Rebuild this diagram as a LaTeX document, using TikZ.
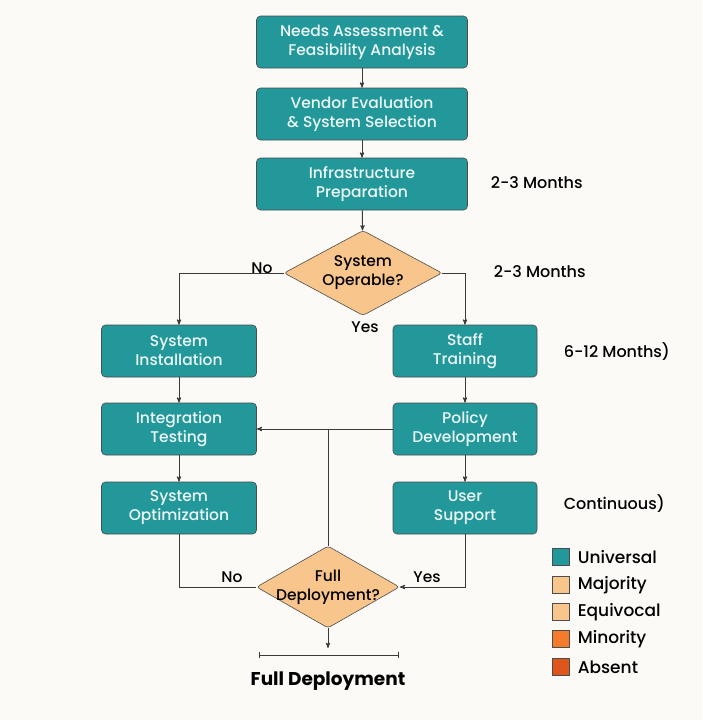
\documentclass[tikz,border=0pt]{standalone}
\usepackage{fontspec}
\setmainfont{Poppins}
\newfontfamily\mediumfont{Poppins Medium}
\usetikzlibrary{arrows,shapes.geometric}

\definecolor{stepteal}{HTML}{23989A}
\definecolor{decpeach}{HTML}{F8C58C}
\definecolor{minorange}{HTML}{F47A2C}
\definecolor{absorange}{HTML}{DF561C}
\definecolor{paper}{HTML}{FCFAF6}
\definecolor{wire}{HTML}{3A3A3A}

\begin{document}
\begin{tikzpicture}[x=1pt,y=-1pt,->,>=stealth',line width=0.9pt,draw=wire,
  stage/.style={rectangle,rounded corners=4pt,fill=stepteal,draw=black!70,line width=0.6pt,
    text=white!92!stepteal,align=center,font=\mediumfont\fontsize{15.5}{19}\selectfont,
    minimum height=52pt,inner sep=0pt},
  wide stage/.style={stage,minimum width=211pt},
  left stage/.style={stage,minimum width=155pt},
  right stage/.style={stage,minimum width=144pt},
  choice/.style={diamond,rounded corners=3pt,fill=decpeach,draw=black!70,line width=0.6pt,
    align=center,font=\mediumfont\fontsize{15.5}{19}\selectfont,inner sep=0pt},
  side/.style={font=\mediumfont\fontsize{16}{18}\selectfont,anchor=west},
  tag/.style={font=\mediumfont\fontsize{15.5}{18}\selectfont},
  key/.style={rectangle,draw=black!70,line width=0.6pt,minimum size=17pt,inner sep=0pt}]

  \fill[paper] (0,0) rectangle (702,720);

  \node[wide stage] (needs) at (362,42) {Needs Assessment \&\\Feasibility Analysis};
  \node[wide stage] (vendor) at (362,114) {Vendor Evaluation\\\& System Selection};
  \node[wide stage] (infra) at (362,184) {Infrastructure\\Preparation};
  \node[choice,minimum width=158pt,minimum height=85pt,aspect=1.86] (operable) at (363,273) {System\\Operable?};
  \node[left stage] (install) at (179,351) {System\\Installation};
  \node[right stage] (staff) at (465,351) {Staff\\Training};
  \node[left stage] (integ) at (179,429) {Integration\\Testing};
  \node[right stage] (policy) at (465,429) {Policy\\Development};
  \node[left stage] (optim) at (179,508) {System\\Optimization};
  \node[right stage] (support) at (465,508) {User\\Support};
  \node[choice,minimum width=143pt,minimum height=82pt,aspect=1.74,
    inner xsep=-14pt] (full) at (328,587) {Full\\Deployment?};

  % durations
  \node[side] (dur1) at (487,183) {2-3 Months};
  \node[side] (dur2) at (490,272) {2-3 Months};
  \node[side] (dur3) at (560,352) {6-12 Months)};
  \node[side] (dur4) at (560,504) {Continuous)};

  % branch labels
  \node[tag] (no1) at (262,268) {No};
  \node[tag] (yes1) at (365,327) {Yes};
  \node[tag] (no2) at (232,577) {No};
  \node[tag] (yes2) at (427,577) {Yes};

  \coordinate (join) at (full |- policy);
  \coordinate (drop) at (328,648);
  \coordinate (barl) at (259,655);
  \coordinate (barr) at (399,655);

  \path[draw=wire]
    (needs) edge (vendor)
    (vendor) edge (infra)
    (infra) edge (operable)
    (install) edge (integ)
    (integ) edge (optim)
    (staff) edge (policy)
    (policy) edge (support)
    (policy) edge (integ)
    (full) edge (drop);

  \draw (operable.west) -| (install);
  \draw (operable.east) -| (staff);
  \draw[-] (full) -- (join);
  \draw[-] (optim) |- (full.west);
  \draw (support) |- (full.east);
  \draw[|-|,line width=0.7pt] (barl) -- (barr);

  \node[font=\fontsize{18.5}{20}\selectfont\bfseries] (result) at (328,681) {Full Deployment};

  % legend
  \node[key,fill=stepteal] (k1) at (561,557) {};
  \node[key,fill=decpeach] (k2) at (561,585) {};
  \node[key,fill=decpeach] (k3) at (561,612) {};
  \node[key,fill=minorange] (k4) at (561,639) {};
  \node[key,fill=absorange] (k5) at (561,667) {};
  \node[side,font=\mediumfont\fontsize{17}{18}\selectfont] (l1) at (574,557) {Universal};
  \node[side,font=\mediumfont\fontsize{17}{18}\selectfont] (l2) at (574,585) {Majority};
  \node[side,font=\mediumfont\fontsize{17}{18}\selectfont] (l3) at (574,612) {Equivocal};
  \node[side,font=\mediumfont\fontsize{17}{18}\selectfont] (l4) at (574,639) {Minority};
  \node[side,font=\mediumfont\fontsize{17}{18}\selectfont] (l5) at (574,667) {Absent};
\end{tikzpicture}
\end{document}
